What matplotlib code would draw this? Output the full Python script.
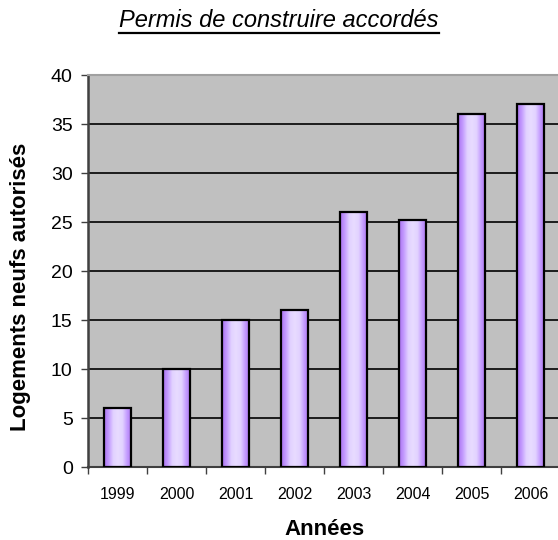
import numpy as np
import matplotlib.pyplot as plt
from matplotlib.colors import LinearSegmentedColormap
from matplotlib.lines import Line2D

plt.rcParams['font.family'] = ['Liberation Sans', 'DejaVu Sans']

annees = ['1999', '2000', '2001', '2002', '2003', '2004', '2005', '2006']
logements = [6, 10, 15, 16, 26, 25.2, 36, 37]

fig = plt.figure(figsize=(5.58, 5.4), dpi=100)
ax = fig.add_axes([0.1577, 0.135, 0.846, 0.726])
ax.set_facecolor('#c0c0c0')

# violet bars, darker at the edges and pale in the middle
cmap = LinearSegmentedColormap.from_list('violet', ['#aa72f0', '#c49cff', '#e2d2ff', '#e8dcff', '#e2d2ff', '#c49cff', '#aa72f0'])
grad = np.linspace(0, 1, 64).reshape(1, -1)
x = np.arange(len(annees))
w = 0.46
bars = ax.bar(x, logements, width=w, facecolor='none', edgecolor='black', linewidth=1.6, zorder=4)
for b in bars:
    bx, by = b.get_x(), b.get_y()
    im = ax.imshow(grad, cmap=cmap, aspect='auto', zorder=3,
                   extent=[bx, bx + b.get_width(), by, by + b.get_height()])
    im.set_clip_path(b)

ax.set_xlim(-0.5, 7.5)
ax.set_ylim(0, 40)
ax.set_yticks(range(0, 41, 5))
ax.yaxis.grid(True, color='black', linewidth=1.2, zorder=1)
ax.set_axisbelow(True)

ax.set_xticks(np.arange(-0.5, 8, 1))
ax.set_xticklabels([])
ax.set_xticks(x, minor=True)
ax.set_xticklabels(annees, minor=True, fontsize=11.5)
ax.tick_params(axis='x', which='minor', length=0, pad=14)
ax.tick_params(axis='x', which='major', length=5, width=1, color='#404040')
ax.tick_params(axis='y', labelsize=14, length=5, width=1, color='#404040', pad=6)

ax.spines['right'].set_visible(False)
ax.spines['top'].set_color('#a0a0a0')
ax.spines['top'].set_linewidth(1.5)
ax.spines['left'].set_color('#404040')
ax.spines['left'].set_linewidth(1.8)
ax.spines['bottom'].set_color('#404040')
ax.spines['bottom'].set_linewidth(1.5)

ax.set_xlabel('Années', fontsize=16, fontweight='bold')
ax.set_ylabel('Logements neufs autorisés', fontsize=16, fontweight='bold')
ax.xaxis.set_label_coords(0.5, -0.158)
ax.yaxis.set_label_coords(-0.142, 0.459)
ax.xaxis.label.set_va('center')
ax.yaxis.label.set_va('center')

title = fig.text(0.5, 0.95, 'Permis de construire accordés', ha='center', va='baseline',
                 fontsize=17, fontstyle='italic')

# underline the title
fig.canvas.draw()
bb = title.get_window_extent().transformed(fig.transFigure.inverted())
fig.add_artist(Line2D([bb.x0, bb.x1], [0.939, 0.939], color='black',
                      linewidth=1.6, transform=fig.transFigure))

fig.savefig('out.png', dpi=100)
